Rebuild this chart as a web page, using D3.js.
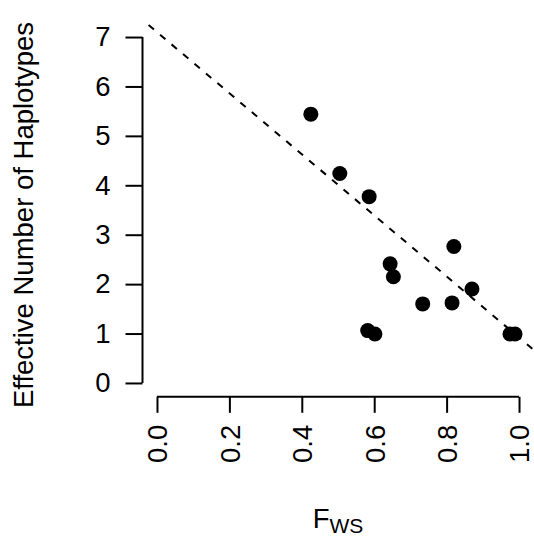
<!DOCTYPE html>
<html>
<head>
<meta charset="utf-8">
<script src="https://cdn.jsdelivr.net/npm/d3@7"></script>
<style>
  body { margin: 0; background: #fff; }
  svg text { font-family: "Liberation Sans", Arial, Helvetica, sans-serif; fill: #000; }
</style>
</head>
<body>
<svg id="chart" width="534" height="537"></svg>
<script>
// Fws vs effective number of haplotypes
var fws = [0.425, 0.505, 0.586, 0.820, 0.644, 0.653, 0.870, 0.734, 0.815, 0.582, 0.602, 0.975, 0.989];
var neHap = [5.44, 4.24, 3.77, 2.76, 2.41, 2.15, 1.90, 1.60, 1.62, 1.06, 0.99, 0.99, 0.99];
// fitted line (intercept, slope)
var fitLine = [7.10, -6.18];
var xTicks = [0, 0.2, 0.4, 0.6, 0.8, 1.0];
var yTicks = [0, 1, 2, 3, 4, 5, 6, 7];

var svg = d3.select("#chart");
var fontSize = 27.5;

// plot region like R: data range extended by 4%
var x = d3.scaleLinear().domain([-0.04, 1.04]).range([142.5, 533.5]);
var y = d3.scaleLinear().domain([-0.28, 7.28]).range([396.8, 23.2]);

// clip for the dashed line
svg.append("clipPath").attr("id", "plotClip")
    .append("rect")
    .attr("x", x.range()[0]).attr("y", y.range()[1])
    .attr("width", x.range()[1] - x.range()[0])
    .attr("height", y.range()[0] - y.range()[1]);

// y axis
let yAxis = svg.append("g")
    .attr("transform", "translate(" + x.range()[0] + ",0)")
    .call(d3.axisLeft(y).tickValues(yTicks).tickSize(17).tickPadding(15).tickFormat(d3.format("d")));
yAxis.select(".domain").remove();
yAxis.append("line")
    .attr("y1", y(yTicks[0])).attr("y2", y(yTicks[yTicks.length - 1]))
    .attr("stroke", "#000").attr("stroke-width", 2);
yAxis.selectAll(".tick line").attr("stroke-width", 2);
yAxis.selectAll(".tick text")
    .style("font-size", fontSize + "px")
    .attr("font-family", null);

// x axis
let xAxis = svg.append("g")
    .attr("transform", "translate(0," + y.range()[0] + ")")
    .call(d3.axisBottom(x).tickValues(xTicks).tickSize(16).tickFormat(d3.format(".1f")));
xAxis.select(".domain").remove();
xAxis.append("line")
    .attr("x1", x(xTicks[0])).attr("x2", x(xTicks[xTicks.length - 1]))
    .attr("stroke", "#000").attr("stroke-width", 2);
xAxis.selectAll(".tick line").attr("stroke-width", 2);
xAxis.selectAll(".tick text")
    .style("font-size", fontSize + "px")
    .attr("font-family", null)
    .attr("text-anchor", "end")
    .attr("transform", "rotate(-90)")
    .attr("x", -28)
    .attr("y", 0)
    .attr("dy", "0.36em");

// dashed regression line
let lineGen = d3.line()
    .x(function (d) { return x(d); })
    .y(function (d) { return y(fitLine[0] + fitLine[1] * d); });
svg.append("path")
    .attr("clip-path", "url(#plotClip)")
    .attr("d", lineGen(x.domain()))
    .attr("fill", "none")
    .attr("stroke", "#000")
    .attr("stroke-width", 2)
    .attr("stroke-dasharray", "7,8")
    .attr("stroke-dashoffset", 7);

// points
svg.append("g").selectAll("circle")
    .data(fws)
    .enter().append("circle")
    .attr("cx", function (d) { return x(d); })
    .attr("cy", function (d, i) { return y(neHap[i]); })
    .attr("r", 7.5)
    .attr("fill", "#000");

// axis titles
svg.append("text")
    .attr("transform", "translate(33," + (y(3.5) + 5) + ") rotate(-90)")
    .attr("text-anchor", "middle")
    .style("font-size", fontSize + "px")
    .text("Effective Number of Haplotypes");

let xt = svg.append("text")
    .attr("x", x(0.5))
    .attr("y", 528)
    .attr("text-anchor", "middle")
    .style("font-size", fontSize + "px");
xt.append("tspan").text("F");
xt.append("tspan").attr("dy", 5).style("font-size", "21px").text("WS");
</script>
</body>
</html>
